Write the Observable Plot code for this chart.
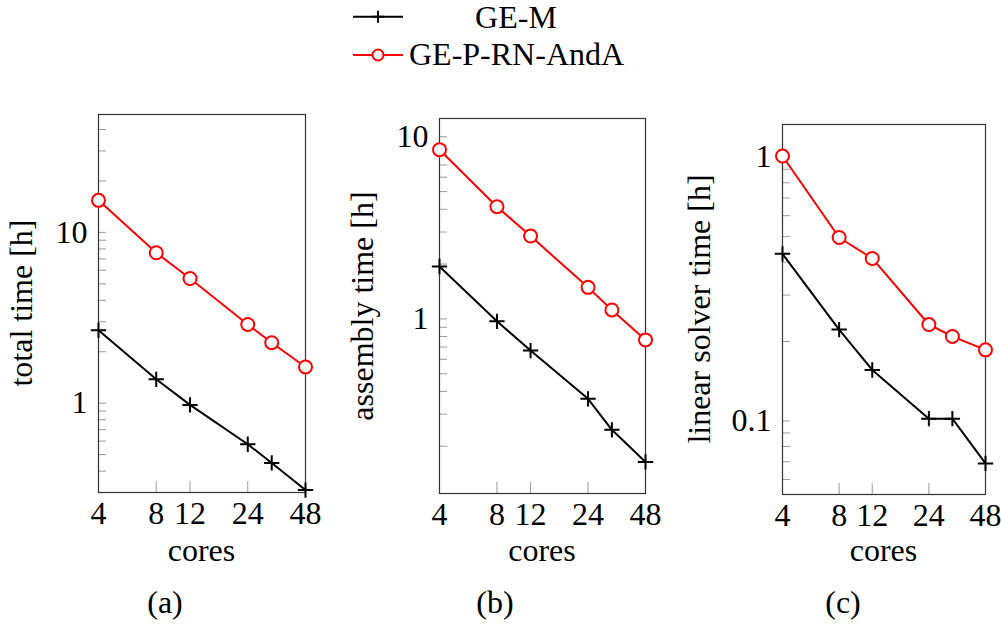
<!DOCTYPE html>
<html><head><meta charset="utf-8">
<script src="https://cdn.jsdelivr.net/npm/d3@7"></script>
<script src="https://cdn.jsdelivr.net/npm/@observablehq/plot@0.6"></script>
<style>
body{margin:0;background:#fff;}
#root{position:relative;width:1001px;height:624px;font-family:"Liberation Serif",serif;color:#000;overflow:hidden;}
.t{position:absolute;font-size:32px;white-space:nowrap;line-height:1;}
</style></head><body><div id="root"></div>
<script>
// ---- data ----
const cores = [4, 8, 12, 24, 32, 48];
const xTickLabels = [4, 8, 12, 24, 48];
const xInnerTicks = [8, 12, 24];
const series = ["GE-M", "GE-P-RN-AndA"];
const seriesColors = ["#000000", "#ff0000"];
// (a) total time [h]
const totalGEM = [2.67, 1.38, 0.977, 0.575, 0.447, 0.31];
const totalGEP = [15.4, 7.6, 5.37, 2.89, 2.26, 1.63];
// (b) assembly time [h]
const asmGEM = [1.94, 0.97, 0.67, 0.364, 0.246, 0.164];
const asmGEP = [8.49, 4.13, 2.85, 1.49, 1.12, 0.767];
// (c) linear solver time [h]
const linGEM = [0.43, 0.222, 0.156, 0.102, 0.102, 0.069];
const linGEP = [1.01, 0.496, 0.413, 0.232, 0.209, 0.186];
const panelLabels = ["(a)", "(b)", "(c)"];
const yTitles = ["total time [h]", "assembly time [h]", "linear solver time [h]"];
const xTitle = "cores";
const yMajorA = [1, 10], yMinorA = [0.3,0.4,0.5,0.6,0.7,0.8,0.9,2,3,4,5,6,7,8,9,20,30,40];
const yMajorB = [1, 10], yMinorB = [0.2,0.3,0.4,0.5,0.6,0.7,0.8,0.9,2,3,4,5,6,7,8,9];
const yMajorC = [0.1, 1], yMinorC = [0.06,0.07,0.08,0.09,0.2,0.3,0.4,0.5,0.6,0.7,0.8,0.9];
const yDomainA = [0.3, 49], yDomainB = [0.11, 12.6], yDomainC = [0.0526, 1.33];

// ---- layout ----
const panels = [
  {gem: totalGEM, gep: totalGEP, major: yMajorA, minor: yMinorA, domain: yDomainA,
   fx: 98, fy: 114, fw: 207, fh: 378, titleX: 21, capX: 165},
  {gem: asmGEM, gep: asmGEP, major: yMajorB, minor: yMinorB, domain: yDomainB,
   fx: 439, fy: 118, fw: 206, fh: 375, titleX: 362, capX: 495},
  {gem: linGEM, gep: linGEP, major: yMajorC, minor: yMinorC, domain: yDomainC,
   fx: 782, fy: 124, fw: 203, fh: 370, titleX: 699, capX: 843}
];
const root = document.getElementById("root");
const ML = 80, MR = 15, MT = 10, MB = 50;
const FONT = "Liberation Serif";
const FS = 32;

function addText(txt, left, top, css) {
  const d = document.createElement("div");
  d.className = "t";
  d.textContent = txt;
  d.style.left = left + "px";
  d.style.top = top + "px";
  Object.assign(d.style, css || {});
  root.appendChild(d);
  return d;
}

panels.forEach((p, i) => {
  const rows = [];
  cores.forEach((c, j) => rows.push({x: c, y: p.gem[j], s: series[0]}));
  cores.forEach((c, j) => rows.push({x: c, y: p.gep[j], s: series[1]}));
  const gemRows = rows.filter(d => d.s === series[0]);
  const gepRows = rows.filter(d => d.s === series[1]);
  const chart = Plot.plot({
    width: ML + p.fw + MR,
    height: MT + p.fh + MB,
    marginLeft: ML, marginRight: MR, marginTop: MT, marginBottom: MB,
    style: {fontFamily: FONT, fontSize: FS + "px", background: "transparent", overflow: "visible"},
    x: {type: "log", domain: [4, 48]},
    y: {type: "log", domain: p.domain},
    color: {domain: series, range: seriesColors},
    marks: [
      Plot.axisY(p.minor, {tickSize: -8, tickFormat: () => "", stroke: "#9a9a9a", label: null}),
      Plot.axisY(p.major, {tickSize: -8, tickFormat: () => "", stroke: "#9a9a9a", label: null}),
      Plot.axisY(p.major, {tickSize: 0, tickPadding: 11, fontSize: FS, fill: "#000", tickFormat: d => String(d), label: null}),
      Plot.axisX(xInnerTicks, {tickSize: -11, tickFormat: () => "", stroke: "#9a9a9a", label: null}),
      Plot.text(xTickLabels, {x: d => d, text: d => String(d), frameAnchor: "bottom", lineAnchor: "top", dy: 9, fontSize: FS, fill: "#000"}),
      Plot.frame({stroke: "#333", strokeWidth: 1.2}),
      Plot.line(rows, {x: "x", y: "y", z: "s", stroke: "s", strokeWidth: 2}),
      Plot.dot(gemRows, {x: "x", y: "y", symbol: "plus", r: 5, stroke: seriesColors[0], strokeWidth: 2}),
      Plot.dot(gepRows, {x: "x", y: "y", r: 6.5, stroke: seriesColors[1], fill: "white", strokeWidth: 2})
    ]
  });
  chart.style.position = "absolute";
  chart.style.left = (p.fx - ML) + "px";
  chart.style.top = (p.fy - MT) + "px";
  root.appendChild(chart);

  // y title (rotated)
  addText(yTitles[i], p.titleX, p.fy + p.fh / 2, {transform: "translate(-50%,-50%) rotate(-90deg)"});
  // x title
  addText(xTitle, p.fx + p.fw / 2, 560 - 26, {transform: "translateX(-50%)"});
  // caption
  addText(panelLabels[i], p.capX, 612 - 26, {transform: "translateX(-50%)"});
});

// ---- legend ----
const ns = "http://www.w3.org/2000/svg";
const lg = document.createElementNS(ns, "svg");
lg.setAttribute("width", 80); lg.setAttribute("height", 80);
lg.style.position = "absolute"; lg.style.left = "340px"; lg.style.top = "0px";
lg.innerHTML =
  `<line x1="13" x2="63" y1="16.7" y2="16.7" stroke="${seriesColors[0]}" stroke-width="2"/>` +
  `<path d="M32,16.7h12M38,10.7v12" stroke="${seriesColors[0]}" stroke-width="2"/>` +
  `<line x1="13" x2="63" y1="55" y2="55" stroke="${seriesColors[1]}" stroke-width="2"/>` +
  `<circle cx="38" cy="55" r="5.5" stroke="${seriesColors[1]}" fill="white" stroke-width="2"/>`;
root.appendChild(lg);
addText(series[0], 516, 27 - 26, {transform: "translateX(-50%)"});
addText(series[1], 409, 63.5 - 26);
</script></body></html>
